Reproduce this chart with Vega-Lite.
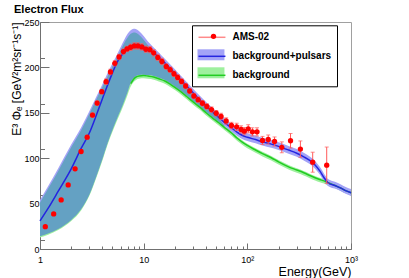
{
  "$schema": "https://vega.github.io/schema/vega-lite/v6.json",
  "width": 311,
  "height": 227,
  "autosize": {"type": "none"},
  "padding": {"left": 40, "top": 22, "right": 58, "bottom": 29},
  "background": "white",
  "config": {
    "view": {"stroke": "#a0a0a0", "strokeWidth": 1},
    "font": "Liberation Sans",
    "axis": {"grid": false, "domainColor": "#707070", "tickColor": "#707070", "labelColor": "#000", "titleColor": "#000", "labelFont": "Liberation Sans", "titleFont": "Liberation Sans", "labelFontSize": 9, "titleFontWeight": "normal"}
  },
  "title": {"text": "Electron Flux", "anchor": "start", "frame": "group", "dx": -26, "offset": -6, "baseline": "alphabetic", "font": "Liberation Sans", "fontSize": 11, "fontWeight": "bold", "color": "#000"},
  "datasets": {
    "curves": [
      {"x": 1, "B": 31, "Blo": 27, "Bhi": 54, "G": null, "Glo": 12.8, "Ghi": 16, "Slo": 14, "Shi": 51},
      {"x": 1.2, "B": 45, "Blo": 41, "Bhi": 69.5, "G": null, "Glo": 15.8, "Ghi": 19, "Slo": 17, "Shi": 66.5},
      {"x": 1.5, "B": 63.7, "Blo": 59.7, "Bhi": 89, "G": null, "Glo": 20.8, "Ghi": 24, "Slo": 22, "Shi": 86},
      {"x": 2, "B": 88.3, "Blo": 84.3, "Bhi": 115, "G": null, "Glo": 30.8, "Ghi": 34, "Slo": 32, "Shi": 112},
      {"x": 2.5, "B": 111, "Blo": 107, "Bhi": 134, "G": null, "Glo": 42.8, "Ghi": 46, "Slo": 44, "Shi": 131},
      {"x": 3, "B": 128, "Blo": 124, "Bhi": 152, "G": null, "Glo": 58.8, "Ghi": 62, "Slo": 60, "Shi": 149},
      {"x": 3.5, "B": 147.5, "Blo": 143.5, "Bhi": 168, "G": null, "Glo": 78.7, "Ghi": 82, "Slo": 80, "Shi": 165},
      {"x": 4, "B": 165.5, "Blo": 161.5, "Bhi": 181.5, "G": null, "Glo": 97.5, "Ghi": 101, "Slo": 99, "Shi": 178.5},
      {"x": 4.5, "B": 181, "Blo": 177, "Bhi": 194, "G": null, "Glo": 115.3, "Ghi": 119, "Slo": 117, "Shi": 190.5},
      {"x": 5, "B": 194, "Blo": 190, "Bhi": 204.5, "G": null, "Glo": 129, "Ghi": 133, "Slo": 131, "Shi": 201},
      {"x": 5.5, "B": 205, "Blo": 201, "Bhi": 213.5, "G": null, "Glo": 140.8, "Ghi": 145, "Slo": 143, "Shi": 210},
      {"x": 6, "B": 212, "Blo": 208, "Bhi": 222.5, "G": null, "Glo": 150.5, "Ghi": 155, "Slo": 153, "Shi": 219},
      {"x": 6.5, "B": 217, "Blo": 213, "Bhi": 230.5, "G": null, "Glo": 160.3, "Ghi": 165, "Slo": 163, "Shi": 227},
      {"x": 7, "B": 220.5, "Blo": 216.5, "Bhi": 237, "G": null, "Glo": 170, "Ghi": 175, "Slo": 173, "Shi": 233},
      {"x": 7.5, "B": 222.5, "Blo": 218.5, "Bhi": 241, "G": 182, "Glo": 179, "Ghi": 184, "Slo": 183, "Shi": 237},
      {"x": 8, "B": 223.5, "Blo": 219.5, "Bhi": 242.5, "G": 187, "Glo": 184, "Ghi": 189, "Slo": 188, "Shi": 238.5},
      {"x": 8.5, "B": 224, "Blo": 220, "Bhi": 242, "G": 189.5, "Glo": 186.5, "Ghi": 191.5, "Slo": 190.5, "Shi": 238},
      {"x": 9, "B": 224, "Blo": 220, "Bhi": 240, "G": 190.5, "Glo": 187.5, "Ghi": 192.5, "Slo": 191.5, "Shi": 236},
      {"x": 10, "B": 222.5, "Blo": 218.5, "Bhi": 234.5, "G": 191, "Glo": 188, "Ghi": 193, "Slo": 192, "Shi": 230.5},
      {"x": 11, "B": 220, "Blo": 216, "Bhi": 228.5, "G": 190.5, "Glo": 187.5, "Ghi": 192.5, "Slo": 191.5, "Shi": 224.5},
      {"x": 12.5, "B": 216, "Blo": 212, "Bhi": 222, "G": 189.5, "Glo": 186.5, "Ghi": 191.5, "Slo": 190.5, "Shi": 218},
      {"x": 14, "B": 211.5, "Blo": 207.5, "Bhi": 216.5, "G": 187.5, "Glo": 184.5, "Ghi": 189.5, "Slo": 188.5, "Shi": 212},
      {"x": 16, "B": 205, "Blo": 201, "Bhi": 209.5, "G": 185, "Glo": 182, "Ghi": 187, "Slo": 186, "Shi": 205},
      {"x": 18, "B": 199, "Blo": 195, "Bhi": 203.5, "G": 181.5, "Glo": 178.5, "Ghi": 183.5, "Slo": 182.5, "Shi": 199},
      {"x": 20, "B": 193.5, "Blo": 189.5, "Bhi": 198, "G": 178, "Glo": 175, "Ghi": 180, "Slo": 179, "Shi": 193.5},
      {"x": 23, "B": 186, "Blo": 182, "Bhi": 190.5, "G": 173, "Glo": 170, "Ghi": 175, "Slo": 174, "Shi": 186},
      {"x": 26, "B": 179.5, "Blo": 175.5, "Bhi": 184, "G": 168, "Glo": 165, "Ghi": 170, "Slo": 169, "Shi": 179.5},
      {"x": 30, "B": 172, "Blo": 168, "Bhi": 176.5, "G": 162, "Glo": 159, "Ghi": 164, "Slo": 163, "Shi": 172},
      {"x": 35, "B": 164, "Blo": 160, "Bhi": 168.5, "G": 156, "Glo": 153, "Ghi": 158, "Slo": 157, "Shi": 164},
      {"x": 40, "B": 157.5, "Blo": 153.5, "Bhi": 162, "G": 150, "Glo": 147, "Ghi": 152, "Slo": 151, "Shi": 157.5},
      {"x": 46, "B": 151, "Blo": 147, "Bhi": 155.5, "G": 144.5, "Glo": 141.5, "Ghi": 146.5, "Slo": 145.5, "Shi": 151},
      {"x": 53, "B": 145, "Blo": 141, "Bhi": 149.5, "G": 139, "Glo": 136, "Ghi": 141, "Slo": 140, "Shi": 144},
      {"x": 60, "B": 139.5, "Blo": 135.5, "Bhi": 144, "G": 134, "Glo": 131, "Ghi": 136, "Slo": 135, "Shi": 136},
      {"x": 70, "B": 133.5, "Blo": 129.5, "Bhi": 138, "G": 128, "Glo": 125, "Ghi": 130, "Slo": null, "Shi": null},
      {"x": 80, "B": 128.5, "Blo": 124.5, "Bhi": 133, "G": 122, "Glo": 119, "Ghi": 124, "Slo": null, "Shi": null},
      {"x": 90, "B": 125, "Blo": 121, "Bhi": 129.5, "G": 117.5, "Glo": 114.5, "Ghi": 119.5, "Slo": null, "Shi": null},
      {"x": 100, "B": 123, "Blo": 119, "Bhi": 127.5, "G": 114, "Glo": 111, "Ghi": 116, "Slo": null, "Shi": null},
      {"x": 120, "B": 120.5, "Blo": 116.5, "Bhi": 125, "G": 109, "Glo": 106, "Ghi": 111, "Slo": null, "Shi": null},
      {"x": 140, "B": 118, "Blo": 114, "Bhi": 122.5, "G": 105, "Glo": 102, "Ghi": 107, "Slo": null, "Shi": null},
      {"x": 170, "B": 115.5, "Blo": 111.5, "Bhi": 120, "G": 100.5, "Glo": 97.5, "Ghi": 102.5, "Slo": null, "Shi": null},
      {"x": 200, "B": 113, "Blo": 109, "Bhi": 117.5, "G": 96, "Glo": 93, "Ghi": 98, "Slo": null, "Shi": null},
      {"x": 250, "B": 109, "Blo": 105, "Bhi": 113.5, "G": 90.5, "Glo": 87.5, "Ghi": 92.5, "Slo": null, "Shi": null},
      {"x": 300, "B": 105.5, "Blo": 101.5, "Bhi": 110, "G": 87, "Glo": 84, "Ghi": 89, "Slo": null, "Shi": null},
      {"x": 350, "B": 101.5, "Blo": 97.5, "Bhi": 106, "G": 84, "Glo": 81, "Ghi": 86, "Slo": null, "Shi": null},
      {"x": 400, "B": 97.5, "Blo": 93.5, "Bhi": 102, "G": 81, "Glo": 78, "Ghi": 83, "Slo": null, "Shi": null},
      {"x": 450, "B": 92.5, "Blo": 88.5, "Bhi": 97, "G": 78.5, "Glo": 75.5, "Ghi": 80.5, "Slo": null, "Shi": null},
      {"x": 500, "B": 86, "Blo": 82, "Bhi": 90.5, "G": 76.5, "Glo": 73.5, "Ghi": 78.5, "Slo": null, "Shi": null},
      {"x": 550, "B": 78.5, "Blo": 74.5, "Bhi": 83, "G": 75, "Glo": 72, "Ghi": 77, "Slo": null, "Shi": null},
      {"x": 600, "B": 73, "Blo": 69.5, "Bhi": 77, "G": 73, "Glo": 70, "Ghi": 76, "Slo": null, "Shi": null},
      {"x": 700, "B": 70, "Blo": 66.5, "Bhi": 74, "G": 70, "Glo": 67, "Ghi": 73, "Slo": null, "Shi": null},
      {"x": 800, "B": 67, "Blo": 63.5, "Bhi": 71, "G": 67, "Glo": 64, "Ghi": 70, "Slo": null, "Shi": null},
      {"x": 900, "B": 64, "Blo": 60.5, "Bhi": 68, "G": 64, "Glo": 61, "Ghi": 67, "Slo": null, "Shi": null},
      {"x": 1000, "B": 62, "Blo": 58.5, "Bhi": 66, "G": 62, "Glo": 59, "Ghi": 65, "Slo": null, "Shi": null}
    ],
    "ams": [
      {"x": 1.125, "y": 24.6, "err": 1.5}, {"x": 1.355, "y": 38.6, "err": 1.5}, {"x": 1.6, "y": 54, "err": 1.5},
      {"x": 1.87, "y": 70.6, "err": 1.5}, {"x": 2.18, "y": 88.3, "err": 2}, {"x": 2.49, "y": 107.4, "err": 2},
      {"x": 2.85, "y": 123.2, "err": 2}, {"x": 3.21, "y": 147.5, "err": 2.5}, {"x": 3.56, "y": 160.7, "err": 2.5},
      {"x": 3.94, "y": 173.3, "err": 2.5}, {"x": 4.34, "y": 184.3, "err": 3}, {"x": 4.78, "y": 195, "err": 3},
      {"x": 5.27, "y": 204.5, "err": 3}, {"x": 5.79, "y": 211.5, "err": 3}, {"x": 6.38, "y": 217.4, "err": 3},
      {"x": 6.9, "y": 220.3, "err": 3}, {"x": 7.48, "y": 222.2, "err": 3.5}, {"x": 8.13, "y": 223.6, "err": 3.5},
      {"x": 8.8, "y": 223.6, "err": 3.5}, {"x": 9.6, "y": 222.5, "err": 3.5}, {"x": 10.5, "y": 220, "err": 3.5},
      {"x": 11.5, "y": 219.5, "err": 3.5}, {"x": 12.5, "y": 216, "err": 3.5}, {"x": 13.7, "y": 211, "err": 3.5},
      {"x": 15, "y": 206.5, "err": 3.5}, {"x": 16.5, "y": 201, "err": 3}, {"x": 18, "y": 197.5, "err": 3},
      {"x": 19.6, "y": 193, "err": 3}, {"x": 21.3, "y": 189, "err": 3}, {"x": 23.2, "y": 184.5, "err": 3},
      {"x": 25.4, "y": 179.5, "err": 3}, {"x": 27.8, "y": 174, "err": 3}, {"x": 30.5, "y": 168.5, "err": 3},
      {"x": 33.5, "y": 164.5, "err": 3}, {"x": 36.9, "y": 160.5, "err": 3}, {"x": 40.7, "y": 157, "err": 3},
      {"x": 45.1, "y": 153.5, "err": 3}, {"x": 50.1, "y": 149.5, "err": 3}, {"x": 55.8, "y": 146, "err": 3.5},
      {"x": 62.5, "y": 141, "err": 3.5}, {"x": 70.3, "y": 136, "err": 3.5}, {"x": 78.9, "y": 134.5, "err": 4},
      {"x": 87, "y": 131.7, "err": 4}, {"x": 93.5, "y": 129.8, "err": 4}, {"x": 102, "y": 132.4, "err": 4.5},
      {"x": 112, "y": 129, "err": 4.5}, {"x": 124, "y": 129, "err": 4.5}, {"x": 140, "y": 119.5, "err": 4.5},
      {"x": 159, "y": 120.6, "err": 5}, {"x": 183, "y": 118.4, "err": 5}, {"x": 215, "y": 112, "err": 6},
      {"x": 261, "y": 119.2, "err": 8}, {"x": 325, "y": 110, "err": 9}, {"x": 427, "y": 95.6, "err": 11},
      {"x": 583, "y": 92.3, "err": 20}
    ]
  },
  "layer": [
    {
      "data": {"name": "curves"},
      "layer": [
        {
          "mark": {"type": "area", "interpolate": "monotone", "opacity": 1},
          "encoding": {
            "x": {"field": "x", "type": "quantitative", "scale": {"type": "log", "domain": [1, 1000], "nice": false},
              "axis": {"values": [1, 10, 100, 1000], "labelExpr": "datum.value == 1 ? '1' : datum.value == 10 ? '10' : datum.value == 100 ? '10²' : '10³'", "tickSize": -6, "labelPadding": 12, "labelFlush": false, "labelOverlap": false, "title": "Energy(GeV)", "titleAnchor": "end", "titleFontSize": 12.5, "titlePadding": 1}},
            "y": {"field": "Glo", "type": "quantitative", "scale": {"domain": [0, 250], "nice": false, "zero": false},
              "axis": {"values": [0, 50, 100, 150, 200, 250], "tickSize": -9, "labelPadding": 10, "labelFlush": false, "title": "E³ Φₑ [GeV²m²sr⁻¹s⁻¹]", "titleAnchor": "end", "titleFontSize": 12, "titlePadding": 0}},
            "y2": {"field": "Ghi"},
            "color": {"datum": "background", "type": "nominal",
              "scale": {"domain": ["background+pulsars", "background"], "range": ["#a3a3f7", "#9ef09e"]},
              "legend": {"orient": "none", "legendX": 152, "legendY": 21.8, "title": null, "padding": 5.5, "rowPadding": 7, "symbolType": "M-1,-1H3.9V1H-1Z", "symbolSize": 121, "symbolStrokeWidth": 0, "labelExpr": "''", "labelFontSize": 10, "labelFontWeight": "bold", "labelOffset": 22, "symbolOpacity": 1}}
          }
        },
        {
          "mark": {"type": "area", "interpolate": "monotone", "opacity": 1},
          "encoding": {
            "x": {"field": "x", "type": "quantitative"},
            "y": {"field": "Blo", "type": "quantitative"},
            "y2": {"field": "Bhi"},
            "color": {"datum": "background+pulsars", "type": "nominal"}
          }
        },
        {
          "mark": {"type": "area", "interpolate": "monotone", "color": "#64a1c3", "opacity": 1},
          "encoding": {
            "x": {"field": "x", "type": "quantitative"},
            "y": {"field": "Slo", "type": "quantitative"},
            "y2": {"field": "Shi"}
          }
        },
        {
          "mark": {"type": "line", "interpolate": "monotone", "strokeWidth": 1.5},
          "encoding": {
            "x": {"field": "x", "type": "quantitative"},
            "y": {"field": "G", "type": "quantitative"},
            "stroke": {"datum": "background", "type": "nominal",
              "scale": {"domain": ["AMS-02", "background+pulsars", "background"], "range": ["#ff8a8a", "#2424e0", "#22cc22"]},
              "legend": {"orient": "none", "legendX": 152, "legendY": 3.3, "title": null, "padding": 5.5, "rowPadding": 7, "strokeColor": "#000", "symbolType": "M-1,0H3.9", "symbolSize": 121, "symbolStrokeWidth": 1.5, "labelFontSize": 10, "labelFontWeight": "bold", "labelColor": "#000", "labelOffset": 22}}
          }
        },
        {
          "mark": {"type": "line", "interpolate": "monotone", "strokeWidth": 1.5},
          "encoding": {
            "x": {"field": "x", "type": "quantitative"},
            "y": {"field": "B", "type": "quantitative"},
            "stroke": {"datum": "background+pulsars", "type": "nominal"}
          }
        }
      ]
    },
    {
      "data": {"name": "ams"},
      "layer": [
        {
          "mark": {"type": "errorbar", "ticks": {"size": 4}, "color": "#ff5a5a", "thickness": 1},
          "encoding": {
            "x": {"field": "x", "type": "quantitative"},
            "y": {"field": "y", "type": "quantitative"},
            "yError": {"field": "err"}
          }
        },
        {
          "mark": {"type": "point", "filled": true, "size": 28, "color": "#ff0000", "opacity": 1},
          "encoding": {
            "x": {"field": "x", "type": "quantitative",
              "axis": {"orient": "bottom", "values": [2, 3, 4, 5, 6, 7, 8, 9, 20, 30, 40, 50, 60, 70, 80, 90, 200, 300, 400, 500, 600, 700, 800, 900], "labels": false, "domain": false, "tickSize": -3, "title": null}},
            "y": {"field": "y", "type": "quantitative",
              "axis": {"orient": "left", "values": [10, 20, 30, 40, 60, 70, 80, 90, 110, 120, 130, 140, 160, 170, 180, 190, 210, 220, 230, 240], "labels": false, "domain": false, "tickSize": -4.5, "title": null}},
            "shape": {"datum": "AMS-02", "type": "nominal",
              "scale": {"domain": ["AMS-02"], "range": ["circle"]},
              "legend": {"orient": "none", "legendX": 152, "legendY": 3.3, "title": null, "padding": 5.5, "symbolSize": 28, "symbolOffset": 10.5, "symbolStrokeWidth": 0, "symbolFillColor": "#ff0000", "labelExpr": "''", "labelFontSize": 11}}
          }
        }
      ]
    }
  ],
  "resolve": {"axis": {"x": "independent", "y": "independent"}}
}
